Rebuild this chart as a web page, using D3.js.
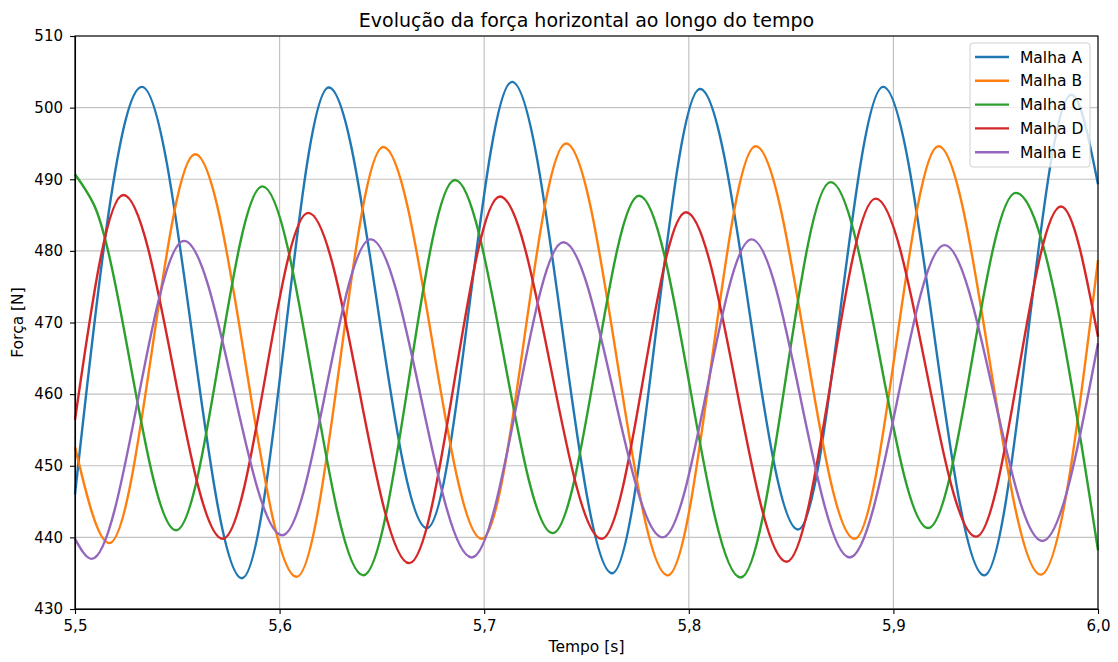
<!DOCTYPE html>
<html>
<head>
<meta charset="utf-8">
<script src="https://cdn.jsdelivr.net/npm/d3@7/dist/d3.min.js"></script>
<style>
    body { margin: 0; background: #fff; }
    svg text { font-family: "DejaVu Sans", sans-serif; fill: #000; }
    .axis path, .axis line { stroke: #000; stroke-width: 1.1; }
    .axis text { font-size: 15px; }
    .grid line { stroke: #c2c2c2; stroke-width: 1.2; }
    .serie { fill: none; stroke-width: 2.4; stroke-linejoin: round; }
</style>
</head>
<body>
<svg id="chart" width="1118" height="662"></svg>
<script>
// valores (extremos de cada malha)
var names = ["Malha A", "Malha B", "Malha C", "Malha D", "Malha E"];
var colors = ["#1f77b4", "#ff7f0e", "#2ca02c", "#d62728", "#9467bd"];

var tA = [5.500, 5.5327, 5.5816, 5.6240, 5.6720, 5.7136, 5.7625, 5.8055, 5.8534, 5.8950, 5.9444, 5.9870, 6.000];
var vA = [446.0, 502.9, 434.3, 502.8, 441.3, 503.6, 435.0, 502.6, 441.1, 502.9, 434.7, 501.8, 489.3];

var tB = [5.500, 5.5168, 5.5587, 5.6083, 5.6507, 5.6988, 5.7400, 5.7897, 5.8327, 5.8810, 5.9220, 5.9720, 6.000];
var vB = [452.6, 439.2, 493.5, 434.5, 494.5, 439.8, 495.0, 434.7, 494.6, 439.8, 494.6, 434.8, 478.7];

var tC = [5.500, 5.509, 5.5494, 5.5916, 5.6409, 5.6857, 5.7335, 5.7757, 5.8253, 5.8693, 5.9170, 5.9598, 6.000];
var vC = [490.7, 486.6, 441.0, 489.0, 434.7, 489.9, 440.6, 487.7, 434.4, 489.6, 441.3, 488.1, 438.2];

var tD = [5.500, 5.5236, 5.5722, 5.6140, 5.6634, 5.7077, 5.7574, 5.7986, 5.8478, 5.8913, 5.9404, 5.9819, 6.000];
var vD = [456.4, 487.8, 439.8, 485.3, 436.4, 487.6, 439.8, 485.4, 436.6, 487.3, 440.1, 486.2, 468.0];

var tE = [5.500, 5.5082, 5.5533, 5.6013, 5.6445, 5.6939, 5.7387, 5.7872, 5.8307, 5.8786, 5.9250, 5.9728, 6.000];
var vE = [439.8, 437.0, 481.4, 440.3, 481.6, 437.2, 481.2, 440.0, 481.6, 437.2, 480.8, 439.5, 467.1];

var xTicks = [5.5, 5.6, 5.7, 5.8, 5.9, 6.0];
var yTicks = [430, 440, 450, 460, 470, 480, 490, 500, 510];

var times = [tA, tB, tC, tD, tE];
var values = [vA, vB, vC, vD, vE];

var margin = {top: 36, right: 20, bottom: 53, left: 75};
var svg = d3.select("#chart");
var width = +svg.attr("width") - margin.left - margin.right;
var height = +svg.attr("height") - margin.top - margin.bottom;

var x = d3.scaleLinear().domain([5.5, 6.0]).range([0, width]);
var y = d3.scaleLinear().domain([430, 510]).range([height, 0]);

var br = d3.formatLocale({decimal: ",", thousands: ".", grouping: [3], currency: ["", ""]});
var fmt = br.format(".1f");

var g = svg.append("g").attr("transform", "translate(" + margin.left + "," + margin.top + ")");

// grade
g.append("g").attr("class", "grid")
    .selectAll("line").data(xTicks).enter().append("line")
    .attr("x1", function(d){ return x(d); }).attr("x2", function(d){ return x(d); })
    .attr("y1", 0).attr("y2", height);
g.append("g").attr("class", "grid")
    .selectAll("line").data(yTicks).enter().append("line")
    .attr("y1", function(d){ return y(d); }).attr("y2", function(d){ return y(d); })
    .attr("x1", 0).attr("x2", width);

// curvas
var line = d3.line()
    .x(function(d){ return x(d[0]); })
    .y(function(d){ return y(d[1]); })
    .curve(d3.curveMonotoneX);

var plot = g.append("g");
names.forEach(function(n, i){
    var pts = times[i].map(function(t, j){ return [t, values[i][j]]; });
    plot.append("path").attr("class", "serie")
        .attr("d", line(pts))
        .attr("stroke", colors[i]);
});

// eixos
g.append("g").attr("class", "axis")
    .attr("transform", "translate(0," + height + ")")
    .call(d3.axisBottom(x).tickValues(xTicks).tickFormat(fmt).tickSize(5).tickPadding(6).tickSizeOuter(0));
g.append("g").attr("class", "axis")
    .call(d3.axisLeft(y).tickValues(yTicks).tickSize(5).tickPadding(7).tickSizeOuter(0));

// moldura
g.append("rect").attr("width", width).attr("height", height)
    .attr("fill", "none").attr("stroke", "#000").attr("stroke-width", 1.1);

// títulos
svg.append("text").attr("x", margin.left + width / 2).attr("y", 27)
    .attr("text-anchor", "middle").style("font-size", "19px")
    .text("Evolução da força horizontal ao longo do tempo");
svg.append("text").attr("x", margin.left + width / 2).attr("y", 652)
    .attr("text-anchor", "middle").style("font-size", "15.5px")
    .text("Tempo [s]");
svg.append("text").attr("transform", "translate(23," + (margin.top + height / 2) + ") rotate(-90)")
    .attr("text-anchor", "middle").style("font-size", "15.5px")
    .text("Força [N]");

// legenda
var leg = svg.append("g").attr("transform", "translate(970,43)");
leg.append("rect").attr("width", 120).attr("height", 124).attr("rx", 3)
    .attr("fill", "#fff").attr("fill-opacity", 0.8)
    .attr("stroke", "#d0d0d0").attr("stroke-width", 1);
names.forEach(function(n, i){
    var yy = 14 + i * 23.8;
    leg.append("line").attr("x1", 5).attr("x2", 39).attr("y1", yy).attr("y2", yy)
        .attr("stroke", colors[i]).attr("stroke-width", 2.4);
    leg.append("text").attr("x", 50).attr("y", yy + 5.5)
        .style("font-size", "15.5px").text(n);
});
</script>
</body>
</html>
